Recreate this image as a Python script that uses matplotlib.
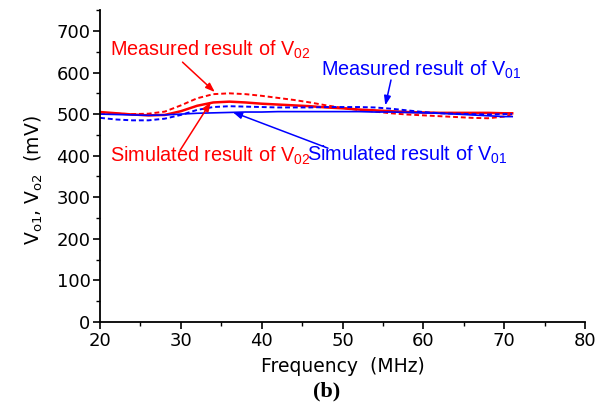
import matplotlib
matplotlib.use("Agg")
import matplotlib.pyplot as plt
import numpy as np

plt.rcParams['font.family'] = ['DejaVu Sans']
plt.rcParams['mathtext.fontset'] = 'custom'
plt.rcParams['mathtext.rm'] = 'Liberation Sans'
plt.rcParams['mathtext.it'] = 'Liberation Sans'

# Frequency samples (MHz)
freq = [20, 22, 24, 26, 28, 30, 32, 34, 36, 38, 40, 42, 44, 46, 48, 50, 52, 54, 56, 58, 60, 62, 64, 66, 68, 70, 71]

# Output voltages (mV)
sim_v02 = [505, 502, 499, 497, 498, 507, 520, 528, 530, 528, 525, 523, 521, 519, 516, 514, 511, 509, 507, 505, 504, 503, 503, 503, 503, 502, 502]
meas_v02 = [503, 501, 500, 501, 506, 521, 538, 548, 550, 548, 544, 539, 534, 528, 521, 515, 510, 506, 502, 499, 497, 495, 493, 491, 490, 494, 500]
meas_v01 = [491, 487, 485, 485, 489, 498, 510, 517, 519, 518, 517, 516, 516, 516, 517, 517, 517, 516, 513, 509, 505, 502, 501, 500, 499, 500, 500]
sim_v01 = [500, 499, 498, 497, 498, 500, 502, 503, 504, 505, 505, 506, 506, 506, 506, 506, 506, 505, 505, 504, 503, 502, 500, 498, 496, 494, 494]

fig = plt.figure(figsize=(6.03, 4.08), dpi=100)
ax = fig.add_axes([0.166, 0.211, 0.804, 0.764])

ax.plot(freq, sim_v02, color='red', lw=1.8, ls='-')
ax.plot(freq, meas_v02, color='red', lw=1.4, ls=(0, (2.5, 1.5)))
ax.plot(freq, meas_v01, color='blue', lw=1.4, ls=(0, (2.5, 1.5)))
ax.plot(freq, sim_v01, color='blue', lw=1.2, ls='-')

ax.set_xlim(20, 80)
ax.set_ylim(0, 750)
ax.set_xticks(np.arange(20, 81, 10))
ax.set_xticks(np.arange(25, 80, 10), minor=True)
ax.set_yticks(np.arange(0, 701, 100))
ax.set_yticks(np.arange(50, 751, 100), minor=True)

for s in ['top', 'right']:
    ax.spines[s].set_visible(False)
for s in ['left', 'bottom']:
    ax.spines[s].set_linewidth(1.3)
ax.tick_params(which='major', direction='out', length=5, width=1.2, labelsize=13, pad=2)
ax.tick_params(which='minor', direction='out', length=3, width=1.0)

ax.set_xlabel('Frequency  (MHz)', fontsize=13.5)
ax.xaxis.set_label_coords(0.5, -0.112)
ax.set_ylabel(r'V$_{\mathregular{o1}}$, V$_{\mathregular{o2}}$  (mV)', fontsize=13.5)
ax.yaxis.set_label_coords(-0.115, 0.455)

arrow = dict(arrowstyle='-|>,head_length=0.55,head_width=0.2', lw=1.1, shrinkA=0, shrinkB=0)
ann_font = dict(fontsize=14.3, family='Liberation Sans', va='center', ha='left')

# Curve labels
ax.text(21.2, 654, r'Measured result of V$_{\mathregular{02}}$', color='red', **ann_font)
ax.text(21.2, 399, r'Simulated result of V$_{\mathregular{02}}$', color='red', **ann_font)
ax.text(47.4, 606, r'Measured result of V$_{\mathregular{01}}$', color='blue', **ann_font)
ax.text(45.6, 401, r'Simulated result of V$_{\mathregular{01}}$', color='blue', **ann_font)

# Pointers from labels to curves
ax.annotate('', xy=(34.2, 553), xytext=(30.2, 625), arrowprops=dict(arrow, color='red'))
ax.annotate('', xy=(33.7, 529), xytext=(29.9, 413), arrowprops=dict(arrow, color='red'))
ax.annotate('', xy=(55.3, 521), xytext=(56.0, 582), arrowprops=dict(arrow, color='blue'))
ax.annotate('', xy=(36.4, 505), xytext=(48.2, 418), arrowprops=dict(arrow, color='blue'))

fig.text(0.542, 0.040, '(b)', fontsize=16, fontweight='bold', family='Liberation Serif',
         ha='center', va='center')

fig.savefig('out.png', dpi=100)
